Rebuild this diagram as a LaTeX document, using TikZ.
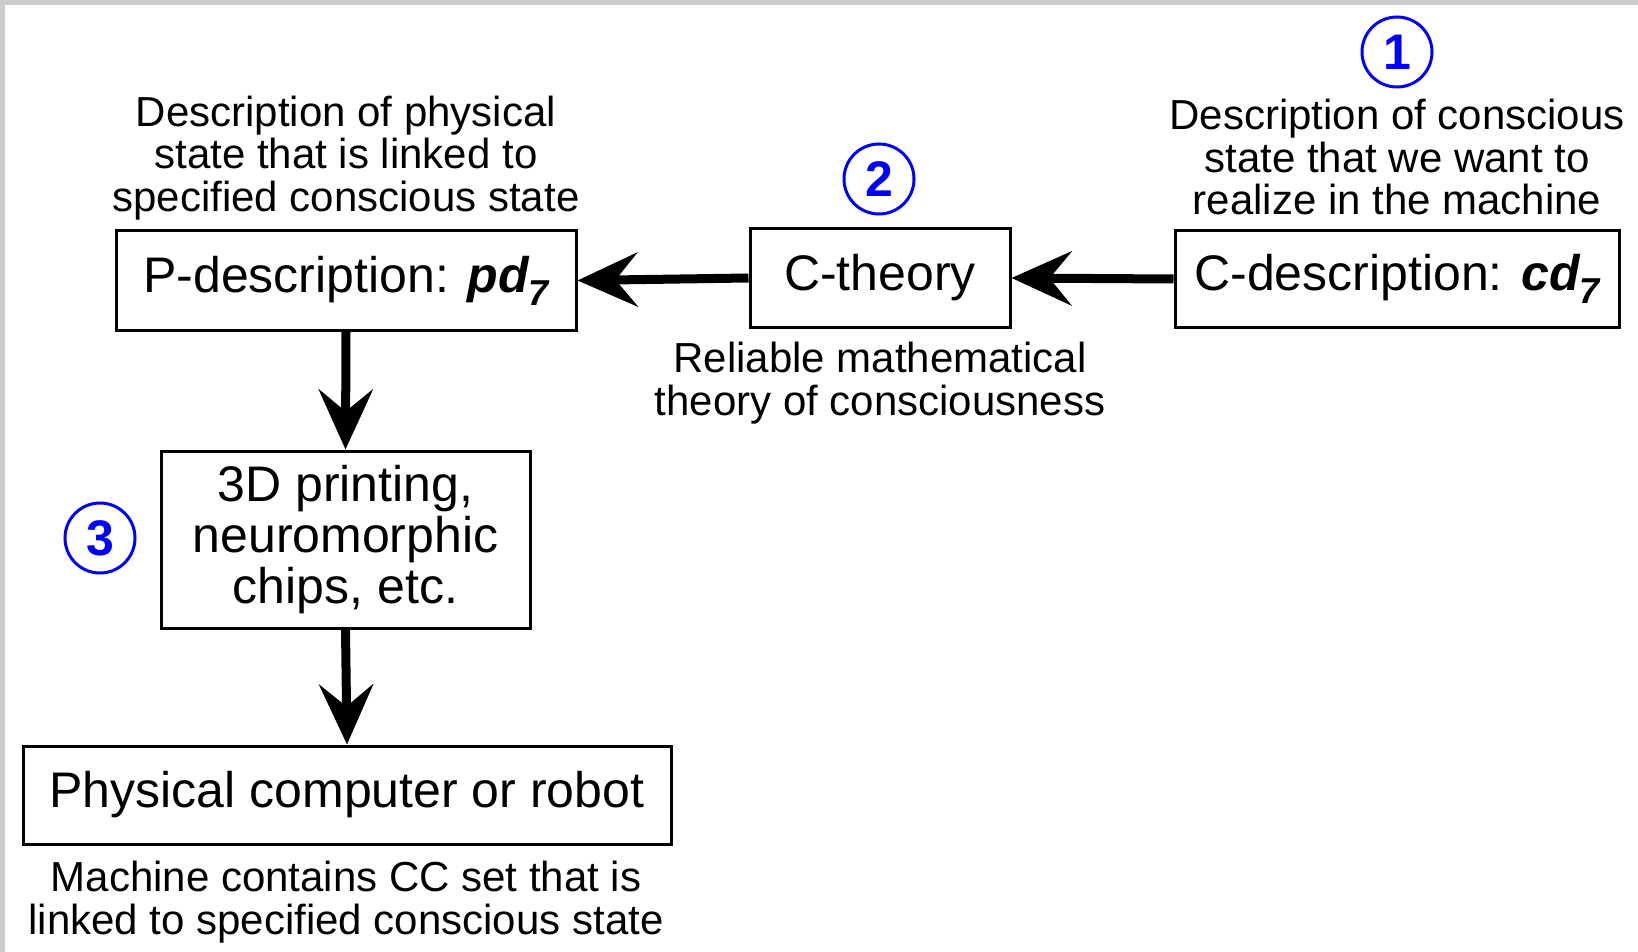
\documentclass[tikz,border=0pt]{standalone}
\usepackage{fontspec}
\setmainfont{Liberation Sans}
\usetikzlibrary{arrows.meta}
\newcommand{\subseven}{\raisebox{-0.5ex}{\fontsize{18}{18}\selectfont 7}}
\begin{document}
\begin{tikzpicture}[x=0.5pt,y=-0.5pt,
 box/.style={draw,line width=1.5pt,inner sep=0pt,align=center,font=\fontsize{25}{25.3}\selectfont},
 lbl/.style={inner sep=0pt,align=center,font=\fontsize{21}{21.2}\selectfont},
 num/.style={circle,draw=blue,line width=1.5pt,text=blue,minimum size=35pt,inner sep=0pt,font=\fontsize{25}{25}\selectfont\bfseries},
 arr/.style={line width=4.5pt,-{Stealth[length=30pt,width=27pt,inset=11pt]}}]
\useasboundingbox (0,0) rectangle (1638,952);
\fill[gray!40] (0,0) rectangle (1638,952);
\fill[white] (5,5) rectangle (1638,952);

\node[box,minimum width=230pt,minimum height=49.5pt] (pd) at (346,280.5) {\raisebox{-1.5pt}{P-description: {\bfseries\itshape pd\subseven}}};
\node[box,minimum width=130pt,minimum height=49pt] (ct) at (880,278) {\raisebox{-1pt}{C-theory}};
\node[box,minimum width=222pt,minimum height=48pt] (cd) at (1397,279) {\raisebox{-1pt}{C-description: {\bfseries\itshape cd\subseven}}};
\node[box,minimum width=184.5pt,minimum height=88.5pt] (pr) at (345.5,539.5) {3D printing,\\neuromorphic\\chips, etc.};
\node[box,minimum width=324pt,minimum height=49pt] (ph) at (347,795) {\raisebox{-1pt}{Physical computer or robot}};

\node[lbl] (lp) at (346,158) {Description of physical\\state that is linked to\\specified conscious state};
\node[lbl] (lc) at (1397,157) {Description of conscious\\state that we want to\\realize in the machine};
\node[lbl] (lt) at (880,383) {Reliable mathematical\\theory of consciousness};
\node[lbl] (lm) at (346,902) {Machine contains CC set that is\\linked to specified conscious state};

\node[num] (n1) at (1397,52) {1};
\node[num] (n2) at (879,179) {2};
\node[num] (n3) at (100,538) {3};

\draw[arr] (cd.west) -- (ct.east);
\draw[arr] (ct.west) -- (pd.east);
\draw[arr] (pd.south) -- (pr.north);
\draw[arr] (pr.south) -- (ph.north);
\end{tikzpicture}
\end{document}
